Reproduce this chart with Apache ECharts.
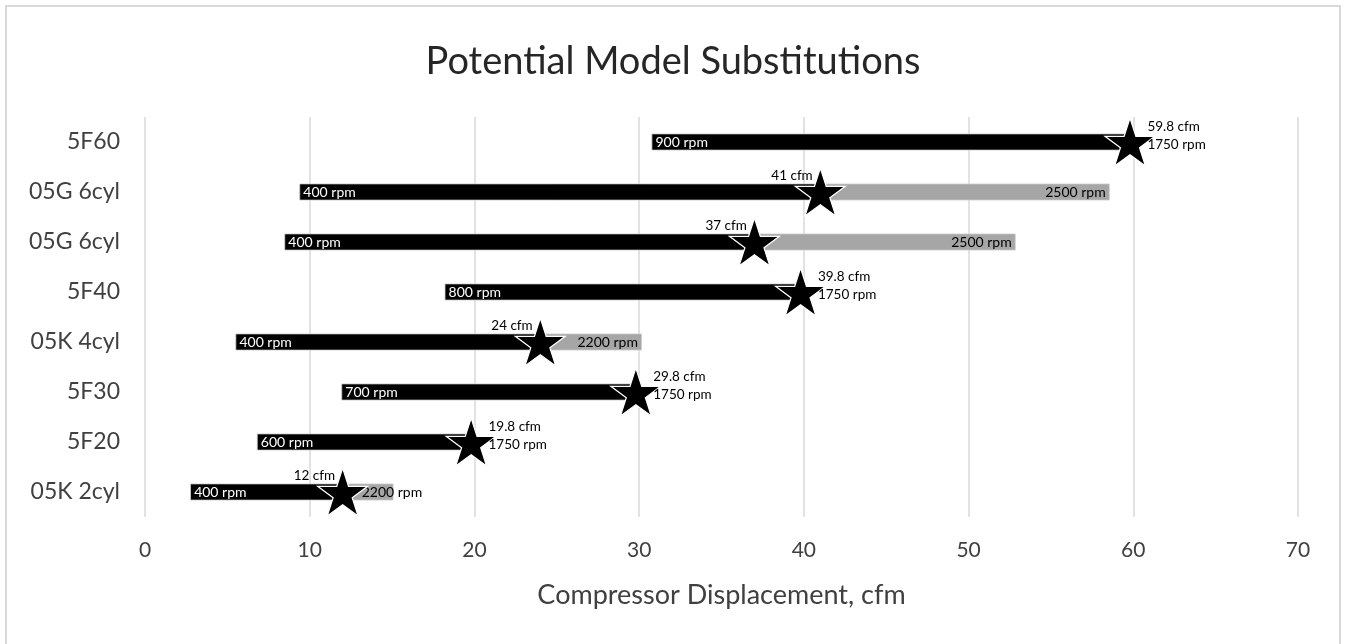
<!DOCTYPE html>
<html>
<head>
<meta charset="utf-8">
<script src="https://cdn.jsdelivr.net/npm/echarts@6/dist/echarts.min.js"></script>
<style>
html,body{margin:0;padding:0;background:#fff;overflow:hidden;}
#frame{position:absolute;left:5px;top:5px;width:1336px;height:660px;border:2px solid #d9d9d9;box-sizing:border-box;}
#chart{position:absolute;left:0;top:0;width:1346px;height:644px;}
</style>
</head>
<body>
<div id="frame"></div>
<div id="chart"></div>
<script>
// Data (bottom to top)
const categories = ['05K 2cyl', '5F20', '5F30', '05K 4cyl', '5F40', '05G 6cyl', '05G 6cyl', '5F60'];
const lowStart = [2.74, 6.79, 11.92, 5.49, 18.19, 8.46, 9.37, 30.75];   // cfm at low rpm
const ratedCfm = [12, 19.8, 29.8, 24, 39.8, 37, 41, 59.8];             // star (cfm at 1750 rpm)
const highEnd = [15.09, null, null, 30.17, null, 52.86, 58.57, null];  // cfm at high rpm
const lowRpmLabels = ['400 rpm', '600 rpm', '700 rpm', '400 rpm', '800 rpm', '400 rpm', '400 rpm', '900 rpm'];
const highRpmLabels = ['2200 rpm', '', '', '2200 rpm', '', '2500 rpm', '2500 rpm', ''];
const starLabels = ['12 cfm', '19.8 cfm\n1750 rpm', '29.8 cfm\n1750 rpm', '24 cfm', '39.8 cfm\n1750 rpm', '37 cfm', '41 cfm', '59.8 cfm\n1750 rpm'];
const xTicks = [0, 10, 20, 30, 40, 50, 60, 70];

const FONT = 'Lato';
const STAR = 'path://M50 0 L61.23 34.55 L97.55 34.55 L68.17 55.9 L79.39 90.45 L50 69.1 L20.61 90.45 L31.83 55.9 L2.45 34.55 L38.77 34.55 Z';

const offsetData = lowStart.slice();
const blackData = ratedCfm.map((v, i) => +(v - lowStart[i]).toFixed(3));
const grayData = highEnd.map((v, i) => {
  if (v == null) return { value: 0, label: { show: false } };
  const len = +(v - ratedCfm[i]).toFixed(3);
  if (len < 6) {
    return { value: len, label: { show: true, position: 'insideLeft', distance: 19 } };
  }
  return { value: len };
});
const starData = ratedCfm.map((v, i) => {
  const hasHigh = highEnd[i] != null;
  return {
    value: [v, i],
    label: hasHigh
      ? { position: [18, 8], align: 'right', verticalAlign: 'middle' }
      : { position: [43, 18], align: 'left', verticalAlign: 'middle', lineHeight: 18 }
  };
});

const chart = echarts.init(document.getElementById('chart'));
chart.setOption({
  animation: false,
  title: {
    text: 'Potential Model Substitutions',
    left: 'center',
    top: 38,
    textStyle: { fontFamily: FONT, fontSize: 38, fontWeight: 'normal', color: '#262626' }
  },
  grid: { left: 145, right: 48, top: 117, bottom: 127, containLabel: false },
  xAxis: {
    type: 'value',
    min: xTicks[0],
    max: xTicks[xTicks.length - 1],
    interval: 10,
    name: 'Compressor Displacement, cfm',
    nameLocation: 'middle',
    nameGap: 65,
    nameTextStyle: { fontFamily: FONT, fontSize: 27, color: '#404040' },
    axisLine: { show: false },
    axisTick: { show: false },
    axisLabel: { fontFamily: FONT, fontSize: 21, color: '#404040', margin: 23 },
    splitLine: { lineStyle: { color: '#d9d9d9', width: 1.5 } }
  },
  yAxis: {
    type: 'category',
    data: categories,
    axisLine: { show: false },
    axisTick: { show: false },
    axisLabel: { fontFamily: FONT, fontSize: 23, color: '#404040', margin: 25 },
    splitLine: { show: false }
  },
  series: [
    {
      type: 'bar', stack: 'r', data: offsetData, barWidth: 17,
      itemStyle: { color: 'transparent' }, silent: true
    },
    {
      type: 'bar', stack: 'r', data: blackData, barWidth: 17,
      itemStyle: { color: '#000', borderColor: '#cfcfcf', borderWidth: 0.8 },
      label: {
        show: true, position: 'insideLeft', distance: 4,
        formatter: p => lowRpmLabels[p.dataIndex],
        color: '#fff', fontFamily: FONT, fontSize: 14
      }
    },
    {
      type: 'bar', stack: 'r', data: grayData, barWidth: 17,
      itemStyle: { color: '#a6a6a6', borderColor: '#d0d0d0', borderWidth: 0.8 },
      label: {
        show: true, position: 'insideRight', distance: 4,
        formatter: p => highRpmLabels[p.dataIndex],
        color: '#000', fontFamily: FONT, fontSize: 14
      }
    },
    {
      type: 'scatter', data: starData, symbol: STAR, symbolSize: [50, 48], z: 5,
      itemStyle: { color: '#000', opacity: 1, borderColor: '#fff', borderWidth: 1.2 },
      label: {
        show: true,
        formatter: p => starLabels[p.dataIndex],
        color: '#000', fontFamily: FONT, fontSize: 13.5
      }
    }
  ]
});
</script>
</body>
</html>
